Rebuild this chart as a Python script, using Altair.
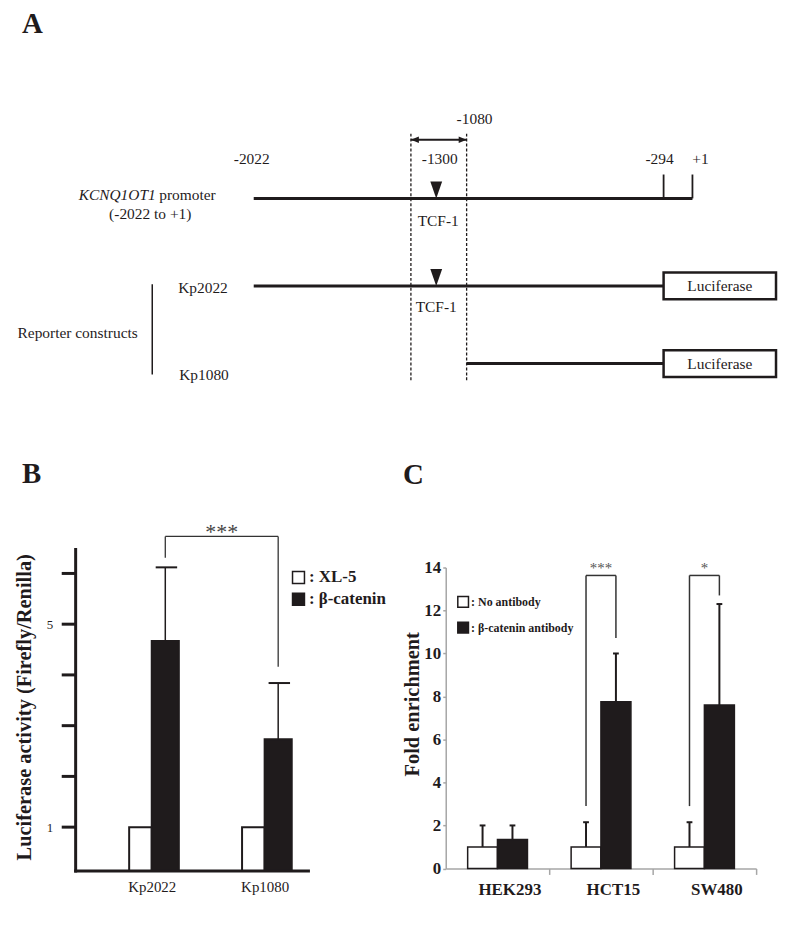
import altair as alt
import pandas as pd

# ---------------- data ----------------
# Panel A: KCNQ1OT1 promoter schematic (bp coordinates)
promoter_sites = [-2022, -1300, -1080, -294, 1]
site_labels = ["-2022", "-1300", "-1080", "-294", "+1"]
tcf1_site = -1200
luciferase_end = 400  # schematic end of the luciferase reporter box
track_names = ["KCNQ1OT1 promoter", "Kp2022", "Kp1080"]
track_rows = [0, 1, 2]
track_start = [-2022, -2022, -1080]
track_end = [1, -294, -294]

# Panel B: luciferase reporter assay
b_constructs = ["Kp2022", "Kp1080"]
b_conditions = ["XL-5", "β-catenin"]
b_xl5 = [1.0, 1.0]
b_bcat = [4.67, 2.73]
b_bcat_sd = [1.45, 1.11]
b_ticks = [1, 2, 3, 4, 5, 6]
b_tick_labels = ["1", "5"]
b_sig = "***"
b_bracket_top = 6.73
b_bracket_left = 6.31
b_bracket_right = 4.16

# Panel C: ChIP fold enrichment
c_cells = ["HEK293", "HCT15", "SW480"]
c_conditions = ["No antibody", "β-catenin antibody"]
c_none = [1.0, 1.0, 1.0]
c_none_sd = [1.0, 1.15, 1.15]
c_ab = [1.35, 7.75, 7.6]
c_ab_sd = [0.65, 2.25, 4.7]
c_ticks = [0, 2, 4, 6, 8, 10, 12, 14]
c_sig_cells = ["HCT15", "SW480"]
c_sig_labels = ["***", "*"]
c_bracket_top = [13.63, 13.63]
c_bracket_left = [2.9, 2.9]
c_bracket_right = [10.72, 12.7]

# ---------------- style / layout ----------------
W, H = 775, 927
SERIF = "Liberation Serif"
INK = "#1f1b1c"
GRAY = "#a6a6a6"
layers = []

# ================= Panel A =================
xA = alt.Scale(domain=promoter_sites + [luciferase_end],
               range=[247, 405, 461, 659, 688, 772], nice=False, zero=False)
yA = alt.Scale(domain=[0, 1, 2], range=[189, 277, 355], nice=False, zero=False)


def XA(f):
    return alt.X(f, type="quantitative", scale=xA, axis=None)


def YA(f):
    return alt.Y(f, type="quantitative", scale=yA, axis=None)


dash_df = pd.DataFrame({"pos": promoter_sites[1:3], "y0": [-0.74, -0.74], "y1": [2.22, 2.22]})
layers.append(alt.Chart(dash_df).mark_rule(strokeWidth=1.3, strokeDash=[3, 2], color=INK).encode(
    x=XA("pos"), y=YA("y0"), y2="y1"))

tracks_df = pd.DataFrame({"name": track_names, "row": track_rows,
                          "start": track_start, "end": track_end})
layers.append(alt.Chart(tracks_df).mark_rule(strokeWidth=3, color=INK).encode(
    x=XA("start"), x2="end", y=YA("row")))

ticks_df = pd.DataFrame({"pos": promoter_sites[3:], "row": [0, 0], "top": [-0.273, -0.273]})
layers.append(alt.Chart(ticks_df).mark_rule(strokeWidth=1.8, color=INK).encode(
    x=XA("pos"), y=YA("row"), y2="top"))

arrow_df = pd.DataFrame({"a": [promoter_sites[1]], "b": [promoter_sites[2]], "row": [-0.67]})
layers.append(alt.Chart(arrow_df).mark_rule(strokeWidth=2, color=INK).encode(
    x=XA("a"), x2="b", y=YA("row")))
layers.append(alt.Chart(arrow_df).mark_point(shape="M0,0L1,-0.42L1,0.42Z", size=256, filled=True,
                                             opacity=1, color=INK, strokeWidth=0).encode(
    x=XA("a"), y=YA("row")))
layers.append(alt.Chart(arrow_df).mark_point(shape="M0,0L-1,-0.42L-1,0.42Z", size=256, filled=True,
                                             opacity=1, color=INK, strokeWidth=0).encode(
    x=XA("b"), y=YA("row")))

tcf_df = pd.DataFrame({"pos": [tcf1_site, tcf1_site], "row": [0, 1]})
layers.append(alt.Chart(tcf_df).mark_point(shape="M-0.35,-1L0.35,-1L0,0Z", size=1156, filled=True,
                                           opacity=1, color=INK, strokeWidth=0).encode(
    x=XA("pos"), y=YA("row")))

# luciferase reporter boxes, anchored at -294 and centred on each construct row
luc_df = pd.DataFrame({"row": [1, 2], "start": [-294, -294]})
layers.append(alt.Chart(luc_df).mark_point(
    shape="M0,-0.238L2,-0.238L2,0.238L0,0.238Z", size=12769, filled=True, opacity=1,
    fill="white", stroke=INK, strokeWidth=2.5).encode(
    x=XA("start"), y=YA("row")))

bracket_df = pd.DataFrame({"y0": [0.98], "y1": [2.14]})
layers.append(alt.Chart(bracket_df).mark_rule(strokeWidth=1.5, color=INK).encode(
    x=alt.value(145), y=YA("y0"), y2="y1"))

site_dx = [-2, 29, 8, -4, 8]
site_dy = [-40, -40, -80, -40, -40]
text_specs = []
for pos, lab, dx, dy in zip(promoter_sites, site_labels, site_dx, site_dy):
    text_specs.append((lab, pos, 0, dx, dy, "normal", "center"))
text_specs += [
    ("TCF-1", tcf1_site, 0, 2, 23, "normal", "center"),
    ("TCF-1", tcf1_site, 1, 0, 21, "normal", "center"),
    ("KCNQ1OT1", promoter_sites[0], 0, -176, -3, "italic", "left"),
    ("promoter", promoter_sites[0], 0, -95, -3, "normal", "left"),
    ("(%s to %s)" % (site_labels[0], site_labels[-1]), promoter_sites[0], 0, -104, 16, "normal", "center"),
    (track_names[1], promoter_sites[0], 1, -51, 2, "normal", "center"),
    (track_names[2], promoter_sites[0], 2, -50, 12, "normal", "center"),
    ("Reporter constructs", promoter_sites[0], 1, -177, 47, "normal", "center"),
    ("Luciferase", luciferase_end, 1, -56.5, 0, "normal", "center"),
    ("Luciferase", luciferase_end, 2, -56.5, 0, "normal", "center"),
]
for txt, pos, row, dx, dy, style, align in text_specs:
    df = pd.DataFrame({"t": [txt], "pos": [pos], "row": [row]})
    layers.append(
        alt.Chart(df).mark_text(font=SERIF, fontSize=15.5, fontStyle=style, align=align,
                                baseline="middle", dx=dx, dy=dy, color=INK).encode(
            x=XA("pos"), y=YA("row"), text="t:N"))

# ================= Panel B =================
yB_min, yB_max = 0.137, 6.47
xB_min, xB_max = -0.674, 1.388
xB = alt.Scale(domain=[xB_min, xB_max], range=[68, 302], nice=False, zero=False)
yB = alt.Scale(domain=[yB_min, yB_max], range=[865, 542], nice=False, zero=False)
B_TICK = 14 / 113.5  # tick length (14 px) in x-units

rowsB = []
for i, k in enumerate(b_constructs):
    rowsB.append(dict(construct=k, cond=b_conditions[0], x0=i - 0.20, x1=i,
                      value=b_xl5[i], base=yB_min))
    rowsB.append(dict(construct=k, cond=b_conditions[1], x0=i, x1=i + 0.24,
                      value=b_bcat[i], base=yB_min))
dfB = pd.DataFrame(rowsB)

axB_x = alt.Axis(orient="bottom", offset=-62, values=[0, 1],
                 labelExpr="%s[datum.value]" % str(b_constructs),
                 domain=False, ticks=False, tickSize=0,
                 labelFont=SERIF, labelFontSize=15, labelColor=INK, labelPadding=9,
                 labelFlush=False, grid=False, title=None)
axB_y = alt.Axis(orient="left", offset=-68, values=b_ticks,
                 labelExpr="indexof(%s, datum.label) >= 0 ? datum.label : ''" % str(b_tick_labels),
                 domain=False, ticks=False, tickSize=0,
                 labelFont=SERIF, labelFontSize=13, labelColor=INK, labelPadding=23, grid=False,
                 title="Luciferase activity (Firefly/Renilla)", titleFont=SERIF,
                 titleFontSize=20.5, titleFontWeight="bold", titleColor=INK,
                 titleX=-51, titleY=700, titleAngle=270, titleBaseline="middle",
                 titleAlign="center")
legB = alt.Legend(orient="none", legendX=283.5, legendY=561.5, title=None, padding=0,
                  symbolType="square", symbolSize=144, symbolStrokeColor=INK,
                  symbolStrokeWidth=1.5, labelExpr="': ' + datum.label",
                  labelFont=SERIF, labelFontSize=17, labelFontWeight="bold",
                  labelColor=INK, labelOffset=2, rowPadding=3)

layers.append(alt.Chart(dfB).mark_bar(stroke=INK, strokeWidth=2).encode(
    x=alt.X("x0:Q", scale=xB, axis=axB_x), x2="x1",
    y=alt.Y("value:Q", scale=yB, axis=axB_y), y2="base",
    fill=alt.Fill("cond:N", scale=alt.Scale(domain=b_conditions, range=["white", INK]),
                  legend=legB)))

# thick black axis frame of panel B (drawn through the panel's scales)
axis_lines_B = pd.DataFrame({"x0": [xB_min, xB_min], "x1": [xB_min, xB_max],
                             "y0": [yB_min, yB_min], "y1": [yB_max, yB_min]})
layers.append(alt.Chart(axis_lines_B).mark_rule(strokeWidth=3, color=INK, strokeCap="square").encode(
    x=alt.X("x0:Q", scale=xB, axis=None), x2="x1",
    y=alt.Y("y0:Q", scale=yB, axis=None), y2="y1"))
ticks_B = pd.DataFrame({"v": b_ticks, "x0": [xB_min] * len(b_ticks),
                        "x1": [xB_min - B_TICK] * len(b_ticks)})
layers.append(alt.Chart(ticks_B).mark_rule(strokeWidth=3, color=INK).encode(
    x=alt.X("x0:Q", scale=xB, axis=None), x2="x1", y=alt.Y("v:Q", scale=yB, axis=None)))

errB = pd.DataFrame({"xc": [i + 0.12 for i in range(2)],
                     "c0": [i + 0.035 for i in range(2)],
                     "c1": [i + 0.225 for i in range(2)],
                     "lo": b_bcat,
                     "hi": [v + s for v, s in zip(b_bcat, b_bcat_sd)]})
layers.append(alt.Chart(errB).mark_rule(strokeWidth=1.5, color=INK).encode(
    x=alt.X("xc:Q", scale=xB, axis=None), y=alt.Y("lo:Q", scale=yB, axis=None), y2="hi"))
layers.append(alt.Chart(errB).mark_rule(strokeWidth=2, color=INK).encode(
    x=alt.X("c0:Q", scale=xB, axis=None), x2="c1", y=alt.Y("hi:Q", scale=yB, axis=None)))

brB = pd.DataFrame({"xl": [0.12], "xr": [1.12], "xm": [0.62], "top": [b_bracket_top],
                    "left": [b_bracket_left], "right": [b_bracket_right], "t": [b_sig]})
layers.append(alt.Chart(brB).mark_rule(strokeWidth=1.3, color="#333333").encode(
    x=alt.X("xl:Q", scale=xB, axis=None), x2="xr", y=alt.Y("top:Q", scale=yB, axis=None)))
layers.append(alt.Chart(brB).mark_rule(strokeWidth=1.3, color="#333333").encode(
    x=alt.X("xl:Q", scale=xB, axis=None), y=alt.Y("top:Q", scale=yB, axis=None), y2="left"))
layers.append(alt.Chart(brB).mark_rule(strokeWidth=1.3, color="#333333").encode(
    x=alt.X("xr:Q", scale=xB, axis=None), y=alt.Y("top:Q", scale=yB, axis=None), y2="right"))
layers.append(alt.Chart(brB).mark_text(font=SERIF, fontSize=22, color="#444444", dy=3,
                                       baseline="alphabetic").encode(
    x=alt.X("xm:Q", scale=xB, axis=None), y=alt.Y("top:Q", scale=yB, axis=None), text="t:N"))

# ================= Panel C =================
xC = alt.Scale(domain=[0, 3], range=[440, 752], nice=False, zero=False)
yC = alt.Scale(domain=[0, 14], range=[862.5, 560], nice=False, zero=False)

rowsC, errRows = [], []
for i, cell in enumerate(c_cells):
    c = i + 0.5
    rowsC.append(dict(cell=cell, cond=c_conditions[0], x0=c - 0.288, x1=c, value=c_none[i], base=0))
    rowsC.append(dict(cell=cell, cond=c_conditions[1], x0=c, x1=c + 0.29, value=c_ab[i], base=0))
    for xc, v, s in [(c - 0.144, c_none[i], c_none_sd[i]), (c + 0.145, c_ab[i], c_ab_sd[i])]:
        errRows.append(dict(xc=xc, c0=xc - 0.028, c1=xc + 0.028, lo=v, hi=v + s))
dfC = pd.DataFrame(rowsC)
errC = pd.DataFrame(errRows)

axC_x = alt.Axis(orient="bottom", offset=-64.5, values=[1, 2, 3],
                 labelExpr="%s[datum.value - 1]" % str(c_cells), labelOffset=-40,
                 tickColor=GRAY, tickWidth=1.5, tickSize=6, domainColor=GRAY, domainWidth=1.5,
                 labelFont=SERIF, labelFontSize=17, labelFontWeight="bold", labelColor=INK,
                 labelPadding=7, labelFlush=False, grid=False, title=None)
axC_y = alt.Axis(orient="left", offset=-440, values=c_ticks,
                 tickColor=GRAY, tickWidth=1.5, tickSize=3, domainColor=GRAY, domainWidth=1.5,
                 labelFont=SERIF, labelFontSize=17, labelFontWeight="bold", labelColor=INK,
                 labelPadding=2, grid=False,
                 title="Fold enrichment", titleFont=SERIF, titleFontSize=20.5,
                 titleFontWeight="bold", titleColor=INK, titleX=-33, titleY=697,
                 titleAngle=270, titleBaseline="middle", titleAlign="center")
legC = alt.Legend(orient="none", legendX=451, legendY=588, title=None, padding=0,
                  symbolType="square", symbolSize=115, symbolStrokeColor=INK,
                  symbolStrokeWidth=1.5, labelExpr="': ' + datum.label",
                  labelFont=SERIF, labelFontSize=12, labelFontWeight="bold",
                  labelColor=INK, labelOffset=1.5, rowPadding=9)

layers.append(alt.Chart(dfC).mark_bar(stroke=INK, strokeWidth=1.5).encode(
    x=alt.X("x0:Q", scale=xC, axis=axC_x), x2="x1",
    y=alt.Y("value:Q", scale=yC, axis=axC_y), y2="base",
    fill=alt.Fill("cond:N", scale=alt.Scale(domain=c_conditions, range=["white", INK]),
                  legend=legC)))
layers.append(alt.Chart(errC).mark_rule(strokeWidth=2, color=INK).encode(
    x=alt.X("xc:Q", scale=xC, axis=None), y=alt.Y("lo:Q", scale=yC, axis=None), y2="hi"))
layers.append(alt.Chart(errC).mark_rule(strokeWidth=2, color=INK).encode(
    x=alt.X("c0:Q", scale=xC, axis=None), x2="c1", y=alt.Y("hi:Q", scale=yC, axis=None)))

brRows = []
for cell, lab, top, lft, rgt in zip(c_sig_cells, c_sig_labels, c_bracket_top,
                                    c_bracket_left, c_bracket_right):
    c = c_cells.index(cell) + 0.5
    brRows.append(dict(xl=c - 0.144, xr=c + 0.145, xm=c, top=top, left=lft, right=rgt, t=lab))
brC = pd.DataFrame(brRows)
layers.append(alt.Chart(brC).mark_rule(strokeWidth=1.5, color="#333333").encode(
    x=alt.X("xl:Q", scale=xC, axis=None), x2="xr", y=alt.Y("top:Q", scale=yC, axis=None)))
layers.append(alt.Chart(brC).mark_rule(strokeWidth=1.5, color="#333333").encode(
    x=alt.X("xl:Q", scale=xC, axis=None), y=alt.Y("top:Q", scale=yC, axis=None), y2="left"))
layers.append(alt.Chart(brC).mark_rule(strokeWidth=1.5, color="#333333").encode(
    x=alt.X("xr:Q", scale=xC, axis=None), y=alt.Y("top:Q", scale=yC, axis=None), y2="right"))
layers.append(alt.Chart(brC).mark_text(font=SERIF, fontSize=15, color="#555555", dy=-2,
                                       baseline="alphabetic").encode(
    x=alt.X("xm:Q", scale=xC, axis=None), y=alt.Y("top:Q", scale=yC, axis=None), text="t:N"))

# ================= panel letters =================
for t, lx, ly, bl in [("A", 14, 0, "top"), ("B", 14, 475, "alphabetic"),
                      ("C", 397, 476, "alphabetic")]:
    layers.append(
        alt.Chart(pd.DataFrame({"t": [t]})).mark_text(
            font=SERIF, fontSize=29, fontWeight="bold", align="left",
            baseline=bl, color=INK).encode(
            text="t:N", x=alt.value(lx), y=alt.value(ly)))

chart = alt.layer(*layers).resolve_scale(
    x="independent", y="independent", fill="independent"
).properties(
    width=W, height=H, autosize=alt.AutoSizeParams(type="none"), padding=0,
    background="white"
).configure_view(strokeWidth=0, strokeOpacity=0)

chart.save("out.html", embed_options={"renderer": "svg", "actions": False})
